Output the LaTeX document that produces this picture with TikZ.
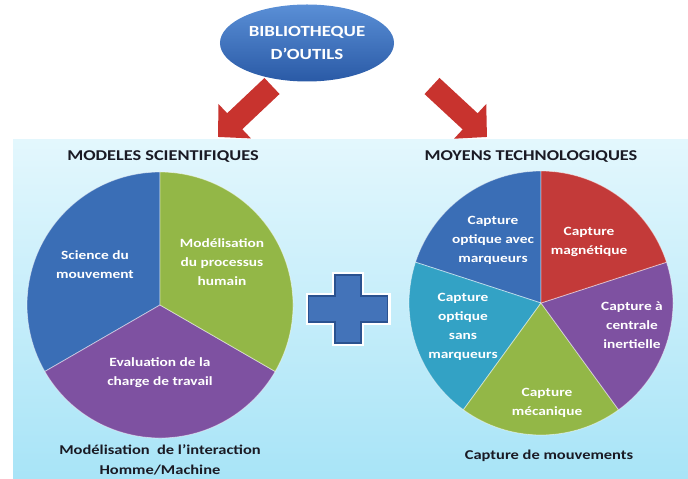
\documentclass[tikz,border=0pt]{standalone}
\usepackage{fontspec}
\setmainfont[FakeStretch=1.22]{Carlito}
\usepackage{xcolor}
\usetikzlibrary{shapes.geometric, arrows.meta, positioning}

\definecolor{panelTop}{HTML}{E3F7FD}
\definecolor{panelBottom}{HTML}{A8E4F7}
\definecolor{libTop}{HTML}{5A8FD6}
\definecolor{libBottom}{HTML}{2A5AA6}
\definecolor{arrowRed}{HTML}{C8332E}
\definecolor{sliceBlue}{HTML}{3A6EB6}
\definecolor{sliceGreen}{HTML}{93B747}
\definecolor{slicePurple}{HTML}{7E51A1}
\definecolor{sliceCyan}{HTML}{33A2C5}
\definecolor{sliceRed}{HTML}{C33A39}
\definecolor{plusBlue}{HTML}{4373B9}
\definecolor{plusEdge}{HTML}{2A5290}
\definecolor{darkText}{HTML}{1A1A24}

\begin{document}
\begin{tikzpicture}[
        x=1pt, y=1pt,
        library/.style={ellipse, shading=axis, top color=libTop, bottom color=libBottom, minimum width=158pt, minimum height=77pt, align=center, text=white, font=\bfseries\fontsize{15.5}{23}\selectfont},
        title/.style={text=darkText, font=\bfseries\fontsize{15}{18}\selectfont},
        slice_label/.style={align=center, text=white, font=\bfseries\fontsize{12.6}{19}\selectfont},
        caption/.style={align=center, text=darkText, font=\bfseries\fontsize{13.5}{20}\selectfont},
        fat_arrow/.style={draw=arrowRed, line width=22pt, -{Triangle[length=23pt, width=46pt]}},
        slice/.style={draw=white, draw opacity=0.5, line width=0.8pt}
    ]
    \useasboundingbox (0,0) rectangle (688,479);
    % background panel
    \shade[top color=panelTop, bottom color=panelBottom] (13,0) rectangle (688,339);

    \node[library] (tool_library) at (307,436) {BIBLIOTHEQUE\\D'OUTILS};

    \node[title] (scientific_title) at (163,322) {MODELES SCIENTIFIQUES};
    \node[title] (technological_title) at (531,322) {MOYENS TECHNOLOGIQUES};

    \coordinate (left_tail) at (272,393);
    \coordinate (left_tip) at (218,342);
    \coordinate (right_tail) at (432,393);
    \coordinate (right_tip) at (487,342);
    \draw[fat_arrow] (left_tail) -- (left_tip);
    \draw[fat_arrow] (right_tail) -- (right_tip);

    % scientific models pie
    \coordinate (left_pie) at (160,174);
    \foreach \from/\to/\col in {90/210/sliceBlue, 210/330/slicePurple, -30/90/sliceGreen}
        \filldraw[slice, fill=\col] (left_pie) -- ++(\from:133) arc[start angle=\from, end angle=\to, radius=133] -- cycle;
    \node[slice_label] (movement_science) at (95,214) {Science du\\mouvement};
    \node[slice_label] (human_process) at (222,217) {Modélisation\\du processus\\humain};
    \node[slice_label] (workload) at (160,106) {Evaluation de la\\charge de travail};
    \node[caption] (interaction_caption) at (160,19) {Modélisation\ \ de l'interaction\\Homme/Machine};

    % plus sign
    \coordinate (plus_sign) at (348,170);
    \filldraw[fill=plusBlue, draw=plusEdge, line width=1.2pt, preaction={draw=white, line width=6pt}]
        (335,204) -- (361,204) -- (361,183) -- (387.5,183) -- (387.5,157) -- (361,157)
        -- (361,136) -- (335,136) -- (335,157) -- (308.5,157) -- (308.5,183) -- (335,183) -- cycle;

    % motion capture pie
    \coordinate (right_pie) at (541,176);
    \foreach \from/\to/\col in {90/162/sliceBlue, 162/234/sliceCyan, 234/306/sliceGreen, 306/378/slicePurple, 18/90/sliceRed}
        \filldraw[slice, fill=\col] (right_pie) -- ++(\from:132) arc[start angle=\from, end angle=\to, radius=132] -- cycle;
    \node[slice_label] (optical_markers) at (493,239) {Capture\\optique avec\\marqueurs};
    \node[slice_label] (magnetic) at (589,237) {Capture\\magnétique};
    \node[slice_label] (optical_markerless) at (463,152) {Capture\\optique\\sans\\marqueurs};
    \node[slice_label] (inertial) at (632,154) {Capture à\\centrale\\inertielle};
    \node[slice_label] (mechanical) at (547,76) {Capture\\mécanique};
    \node[caption] (capture_caption) at (549,23) {Capture de mouvements};
\end{tikzpicture}
\end{document}
